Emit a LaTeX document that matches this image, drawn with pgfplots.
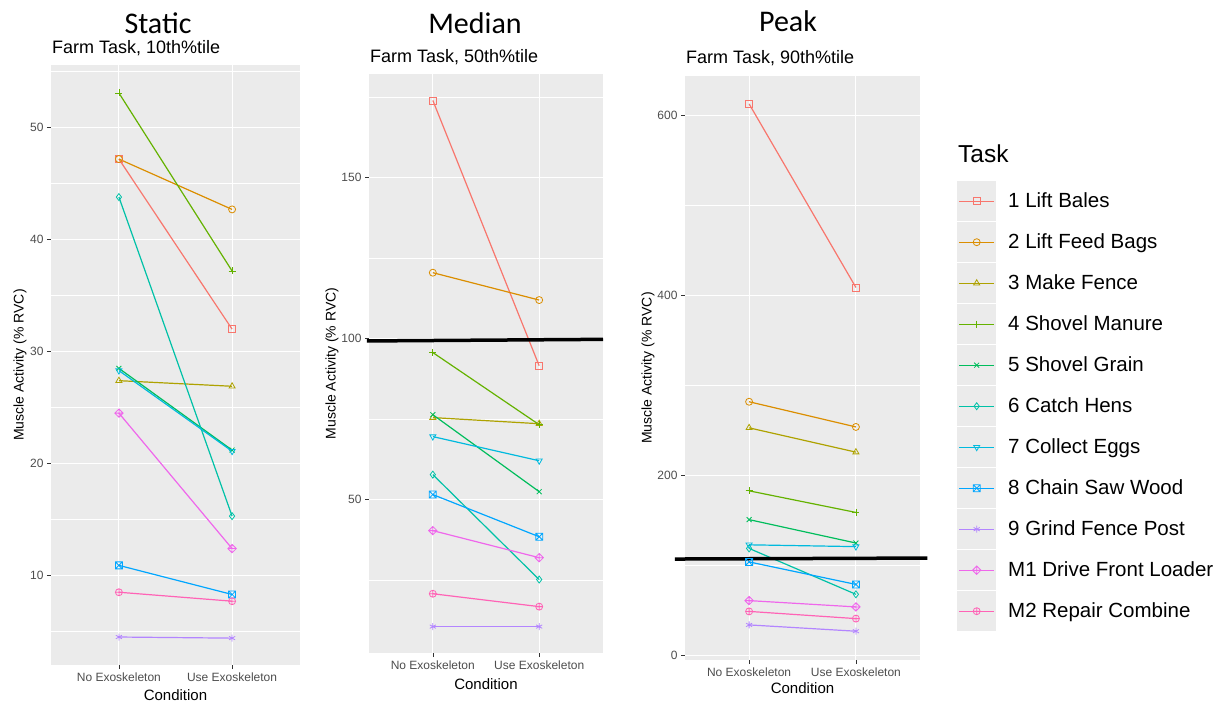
\documentclass[border=0pt]{standalone}
\usepackage{pgfplots}
\pgfplotsset{compat=1.18}
\usepackage{pgfplotstable}
\usepackage{fontspec}
\setmainfont{Liberation Sans}
\newfontfamily\calibri{Carlito}

\definecolor{ggpanel}{HTML}{EBEBEB}
\definecolor{ggtick}{HTML}{333333}
\definecolor{ggticklab}{HTML}{4D4D4D}
\definecolor{c1}{HTML}{F8766D}
\definecolor{c2}{HTML}{DB8E00}
\definecolor{c3}{HTML}{AEA200}
\definecolor{c4}{HTML}{64B200}
\definecolor{c5}{HTML}{00BD5C}
\definecolor{c6}{HTML}{00C1A7}
\definecolor{c7}{HTML}{00BADE}
\definecolor{c8}{HTML}{00A6FF}
\definecolor{c9}{HTML}{B385FF}
\definecolor{c10}{HTML}{EF67EB}
\definecolor{c11}{HTML}{FF63B6}

\pgfdeclareplotmark{boxtimes}{%
  \pgfpathrectangle{\pgfqpoint{-\pgfplotmarksize}{-\pgfplotmarksize}}{\pgfqpoint{2\pgfplotmarksize}{2\pgfplotmarksize}}%
  \pgfpathmoveto{\pgfqpoint{-\pgfplotmarksize}{-\pgfplotmarksize}}%
  \pgfpathlineto{\pgfqpoint{\pgfplotmarksize}{\pgfplotmarksize}}%
  \pgfpathmoveto{\pgfqpoint{-\pgfplotmarksize}{\pgfplotmarksize}}%
  \pgfpathlineto{\pgfqpoint{\pgfplotmarksize}{-\pgfplotmarksize}}%
  \pgfusepathqstroke}
\pgfdeclareplotmark{diamondplus}{%
  \pgfpathmoveto{\pgfqpoint{0pt}{1.2\pgfplotmarksize}}%
  \pgfpathlineto{\pgfqpoint{1.2\pgfplotmarksize}{0pt}}%
  \pgfpathlineto{\pgfqpoint{0pt}{-1.2\pgfplotmarksize}}%
  \pgfpathlineto{\pgfqpoint{-1.2\pgfplotmarksize}{0pt}}%
  \pgfpathclose
  \pgfpathmoveto{\pgfqpoint{0pt}{1.2\pgfplotmarksize}}%
  \pgfpathlineto{\pgfqpoint{0pt}{-1.2\pgfplotmarksize}}%
  \pgfpathmoveto{\pgfqpoint{-1.2\pgfplotmarksize}{0pt}}%
  \pgfpathlineto{\pgfqpoint{1.2\pgfplotmarksize}{0pt}}%
  \pgfusepathqstroke}

\pgfplotsset{
  legimg/.style={legend image code/.code={%
    \fill[ggpanel, draw=none] (0pt,-20pt) rectangle (39pt,20pt);
    \draw[mark repeat=2, mark phase=2, ##1, color=#1, draw=#1, line width=1.4pt] plot coordinates {(2pt,0pt) (19.5pt,0pt) (37pt,0pt)};
  }},
  mk/.style={mark options={solid, line width=0.8pt, fill opacity=0}},
  t1/.style={c1, mark=square, mk, legimg=c1},
  t2/.style={c2, mark=o, mk, legimg=c2},
  t3/.style={c3, mark=triangle, mk, legimg=c3},
  t4/.style={c4, mark=+, mk, legimg=c4},
  t5/.style={c5, mark=x, mk, legimg=c5},
  t6/.style={c6, mark=diamond, mk, legimg=c6},
  t7/.style={c7, mark=triangle, mark options={solid, line width=0.8pt, rotate=180}, legimg=c7},
  t8/.style={c8, mark=boxtimes, mk, legimg=c8},
  t9/.style={c9, mark=asterisk, mk, legimg=c9},
  t10/.style={c10, mark=diamondplus, mk, legimg=c10},
  t11/.style={c11, mark=oplus, mk, legimg=c11},
  ggbase/.style={
    scale only axis,
    anchor=south west,
    axis background/.style={fill=ggpanel},
    axis line style={draw=none},
    xmin=0.4, xmax=2.6,
    xtick={1,2},
    xticklabels={No Exoskeleton, Use Exoskeleton},
    xmajorgrids, ymajorgrids, yminorgrids,
    major grid style={white, line width=1.1pt},
    minor grid style={white, line width=0.55pt},
    minor tick length=0pt,
    major tick length=4pt,
    tick align=outside,
    xtick pos=left, ytick pos=left,
    tick style={ggtick, line width=0.6pt},
    ticklabel style={font=\fontsize{12}{14}\selectfont, text=ggticklab},
    /pgf/number format/assume math mode=true,
    /pgf/number format/1000 sep={},
    xlabel={Condition},
    ylabel={Muscle Activity (\% RVC)},
    label style={font=\fontsize{15}{17}\selectfont, text=black},
    ylabel style={font=\fontsize{14}{16}\selectfont, rotate=0, anchor=center},
    xlabel style={anchor=center},
    every axis plot/.append style={line width=1.2pt, mark size=3.5pt},
    clip=false,
  },
}

\pgfplotstableread{
x t1 t2 t3 t4 t5 t6 t7 t8 t9 t10 t11
1 47.2 47.2 27.4 53.1 28.5 43.8 28.3 10.9 4.5 24.5 8.5
2 32.0 42.7 26.9 37.2 21.2 15.3 21.1 8.3 4.4 12.4 7.7
}\staticdata

\pgfplotstableread{
x t1 t2 t3 t4 t5 t6 t7 t8 t9 t10 t11
1 174.0 120.5 75.5 95.7 76.4 57.8 69.6 51.6 10.6 40.4 20.8
2 91.6 112.0 73.6 73.3 52.5 25.2 62.1 38.5 10.6 32.0 16.8
}\mediandata

\pgfplotstableread{
x t1 t2 t3 t4 t5 t6 t7 t8 t9 t10 t11
1 613 282 253 183 151 119 123 104 34 61 49
2 409 254 226 159 125 68 121 79 27 54 41
}\peakdata

\begin{document}
\begin{tikzpicture}
\useasboundingbox (0,0) rectangle (1228pt,702pt);

% Titles
\node[anchor=base, inner sep=0pt, font=\calibri\fontsize{30}{34}\selectfont] at (158pt,668pt) {Static};
\node[anchor=base west, inner sep=0pt, font=\fontsize{18}{20}\selectfont] at (52pt,648pt) {Farm Task, 10th\%tile};
\node[anchor=base, inner sep=0pt, font=\calibri\fontsize{30}{34}\selectfont] at (475pt,668pt) {Median};
\node[anchor=base west, inner sep=0pt, font=\fontsize{18}{20}\selectfont] at (370pt,639pt) {Farm Task, 50th\%tile};
\node[anchor=base, inner sep=0pt, font=\calibri\fontsize{30}{34}\selectfont] at (788pt,670pt) {Peak};
\node[anchor=base west, inner sep=0pt, font=\fontsize{18}{20}\selectfont] at (686pt,638pt) {Farm Task, 90th\%tile};

% Static
\begin{axis}[ggbase,
  at={(51pt,37pt)}, width=249pt, height=600pt,
  ymin=2.0, ymax=55.6,
  ytick={10,20,30,40,50},
  minor ytick={5,15,25,35,45,55},
  ylabel style={at={(axis description cs:-0.1245,0.5)}},
  xlabel style={at={(axis description cs:0.5,-0.05)}},
]
\addplot[t1] table[x=x,y=t1]{\staticdata};
\addplot[t2] table[x=x,y=t2]{\staticdata};
\addplot[t3] table[x=x,y=t3]{\staticdata};
\addplot[t4] table[x=x,y=t4]{\staticdata};
\addplot[t5] table[x=x,y=t5]{\staticdata};
\addplot[t6] table[x=x,y=t6]{\staticdata};
\addplot[t7] table[x=x,y=t7]{\staticdata};
\addplot[t8] table[x=x,y=t8]{\staticdata};
\addplot[t9] table[x=x,y=t9]{\staticdata};
\addplot[t10] table[x=x,y=t10]{\staticdata};
\addplot[t11] table[x=x,y=t11]{\staticdata};
\end{axis}

% Median
\begin{axis}[ggbase,
  at={(369pt,49pt)}, width=234pt, height=579pt,
  ymin=2.4, ymax=182.2,
  ytick={50,100,150},
  minor ytick={25,75,125,175},
  ylabel style={at={(axis description cs:-0.158,0.5)}},
  xlabel style={at={(axis description cs:0.5,-0.0535)}},
]
\addplot[t1] table[x=x,y=t1]{\mediandata};
\addplot[t2] table[x=x,y=t2]{\mediandata};
\addplot[t3] table[x=x,y=t3]{\mediandata};
\addplot[t4] table[x=x,y=t4]{\mediandata};
\addplot[t5] table[x=x,y=t5]{\mediandata};
\addplot[t6] table[x=x,y=t6]{\mediandata};
\addplot[t7] table[x=x,y=t7]{\mediandata};
\addplot[t8] table[x=x,y=t8]{\mediandata};
\addplot[t9] table[x=x,y=t9]{\mediandata};
\addplot[t10] table[x=x,y=t10]{\mediandata};
\addplot[t11] table[x=x,y=t11]{\mediandata};
\addplot[black, line width=3.5pt, mark=none, forget plot] coordinates {(0.38,99.3) (2.6,99.8)};
\end{axis}

% Peak
\begin{axis}[ggbase,
  at={(685pt,42pt)}, width=235pt, height=584pt,
  ymin=-5, ymax=644,
  ytick={0,200,400,600},
  minor ytick={100,300,500},
  ylabel style={at={(axis description cs:-0.157,0.5)}},
  xlabel style={at={(axis description cs:0.5,-0.048)}},
  legend style={at={(axis description cs:1.1574,0.8202)}, anchor=north west,
    draw=none, fill=none, inner sep=0pt, row sep=1pt, column sep=12pt,
    nodes={inner sep=0pt},
    font=\fontsize{20.5}{24}\selectfont},
  legend cell align=left,
]
\addplot[t1] table[x=x,y=t1]{\peakdata};
\addlegendentry{1 Lift Bales}
\addplot[t2] table[x=x,y=t2]{\peakdata};
\addlegendentry{2 Lift Feed Bags}
\addplot[t3] table[x=x,y=t3]{\peakdata};
\addlegendentry{3 Make Fence}
\addplot[t4] table[x=x,y=t4]{\peakdata};
\addlegendentry{4 Shovel Manure}
\addplot[t5] table[x=x,y=t5]{\peakdata};
\addlegendentry{5 Shovel Grain}
\addplot[t6] table[x=x,y=t6]{\peakdata};
\addlegendentry{6 Catch Hens}
\addplot[t7] table[x=x,y=t7]{\peakdata};
\addlegendentry{7 Collect Eggs}
\addplot[t8] table[x=x,y=t8]{\peakdata};
\addlegendentry{8 Chain Saw Wood}
\addplot[t9] table[x=x,y=t9]{\peakdata};
\addlegendentry{9 Grind Fence Post}
\addplot[t10] table[x=x,y=t10]{\peakdata};
\addlegendentry{M1 Drive Front Loader}
\addplot[t11] table[x=x,y=t11]{\peakdata};
\addlegendentry{M2 Repair Combine}
\addplot[black, line width=3.5pt, mark=none, forget plot] coordinates {(0.305,107.2) (2.67,108.3)};
\end{axis}

\node[anchor=base west, inner sep=0pt, font=\fontsize{24.5}{28}\selectfont] at (958pt,539pt) {Task};
\end{tikzpicture}
\end{document}
